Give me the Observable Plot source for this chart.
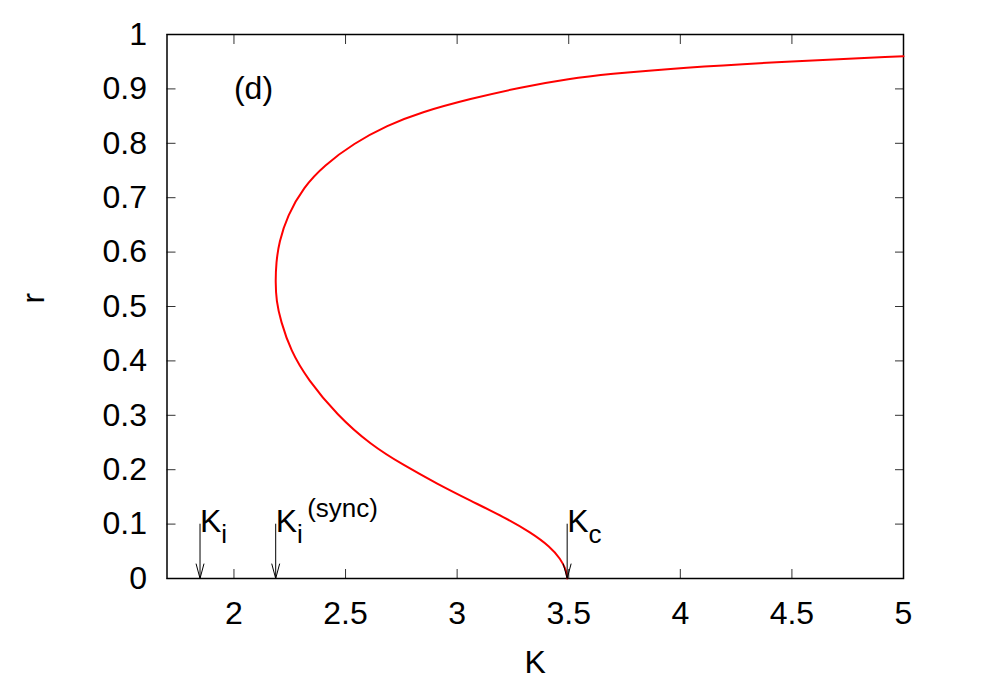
<!DOCTYPE html>
<html>
<head>
<meta charset="utf-8">
<script src="https://cdn.jsdelivr.net/npm/d3@7"></script>
<script src="https://cdn.jsdelivr.net/npm/@observablehq/plot@0.6"></script>
<style>
  html, body { margin: 0; padding: 0; background: #fff; }
</style>
</head>
<body>
<div id="chart"></div>
<script>
// Curve r(K): lower branch from Kc up to the turning point, then the upper branch
const curveK = [3.493, 3.4915, 3.485, 3.463, 3.418, 3.329, 3.209, 3.06, 2.911, 2.761, 2.612, 2.463, 2.33, 2.254, 2.209, 2.19, 2.186, 2.189, 2.202, 2.239, 2.313, 2.403, 2.537, 2.687, 2.836, 3.06, 3.284, 3.508, 3.672, 4.0, 4.5, 5.0];
const curveR = [0.0, 0.008, 0.018, 0.036, 0.058, 0.085, 0.113, 0.143, 0.174, 0.208, 0.246, 0.300, 0.366, 0.419, 0.474, 0.51, 0.545, 0.58, 0.618, 0.667, 0.720, 0.759, 0.800, 0.833, 0.857, 0.882, 0.903, 0.919, 0.927, 0.939, 0.951, 0.960];

// Marked coupling values (arrows)
const markerK = [1.848, 2.187, 3.493];
const markerBase = ["K", "K", "K"];
const markerSub = ["i", "i", "c"];
const markerSup = ["", "(sync)", ""];
const arrowTop = 0.1;
const arrowBottom = 0;

const xTicks = [2, 2.5, 3, 3.5, 4, 4.5, 5];
const yTicks = [0, 0.1, 0.2, 0.3, 0.4, 0.5, 0.6, 0.7, 0.8, 0.9, 1];
const xDomain = [1.7, 5];
const yDomain = [0, 1];
const panelLabel = "(d)";
const panelPos = {K: 2.0, r: 0.9};
const xLabel = "K";
const yLabel = "r";

const curve = curveK.map((k, i) => ({K: k, r: curveR[i]}));
const markers = markerK.map((k, i) => ({K: k, base: markerBase[i], sub: markerSub[i], sup: markerSup[i]}));

const FS = 32;
const FS_SMALL = 26;

const chart = Plot.plot({
  width: 981,
  height: 687,
  marginLeft: 166.5,
  marginRight: 78,
  marginTop: 34,
  marginBottom: 109,
  style: {fontFamily: "'Liberation Sans', Arial, Helvetica, sans-serif", fontSize: FS + "px", background: "#fff", color: "#000"},
  x: {domain: xDomain},
  y: {domain: yDomain},
  marks: [
    Plot.axisX({anchor: "bottom", ticks: xTicks, tickSize: -9, tickPadding: 32, tickFormat: d => `${d}`, label: null, fontSize: FS, stroke: "#333"}),
    Plot.axisX({anchor: "top", ticks: xTicks, tickSize: -9, tickFormat: () => "", label: null, stroke: "#333"}),
    Plot.axisY({anchor: "left", ticks: yTicks, tickSize: -9, tickPadding: 29, tickFormat: d => `${d}`, label: null, fontSize: FS, stroke: "#333"}),
    Plot.axisY({anchor: "right", ticks: yTicks, tickSize: -9, tickFormat: () => "", label: null, stroke: "#333"}),
    Plot.frame({stroke: "#000", strokeWidth: 1.5}),
    Plot.line(curve, {x: "K", y: "r", stroke: "#ff0000", strokeWidth: 2, curve: "basis"}),
    Plot.arrow(markers, {x1: "K", x2: "K", y1: () => arrowTop, y2: () => arrowBottom, stroke: "#000", strokeWidth: 1, headLength: 22.5, headAngle: 30}),
    Plot.text(markers, {x: "K", y: () => arrowTop, text: "base", textAnchor: "start", lineAnchor: "bottom", dy: 7.5, fontSize: FS, fill: "#000"}),
    Plot.text(markers, {x: "K", y: () => arrowTop, text: "sub", textAnchor: "start", lineAnchor: "bottom", dx: 21.3, dy: 18.5, fontSize: FS_SMALL, fill: "#000"}),
    Plot.text(markers, {x: "K", y: () => arrowTop, text: "sup", textAnchor: "start", lineAnchor: "bottom", dx: 31.5, dy: -7, fontSize: FS_SMALL, fill: "#000"}),
    Plot.text([panelLabel], {x: () => panelPos.K, y: () => panelPos.r, text: d => d, textAnchor: "start", lineAnchor: "middle", fontSize: FS, fill: "#000"}),
    Plot.text([xLabel], {frameAnchor: "bottom", text: d => d, lineAnchor: "top", dy: 72, fontSize: FS, fill: "#000"}),
    Plot.text([yLabel], {frameAnchor: "left", text: d => d, rotate: -90, lineAnchor: "middle", dx: -133.5, dy: -3, fontSize: FS, fill: "#000"})
  ]
});
document.getElementById("chart").appendChild(chart);
</script>
</body>
</html>
